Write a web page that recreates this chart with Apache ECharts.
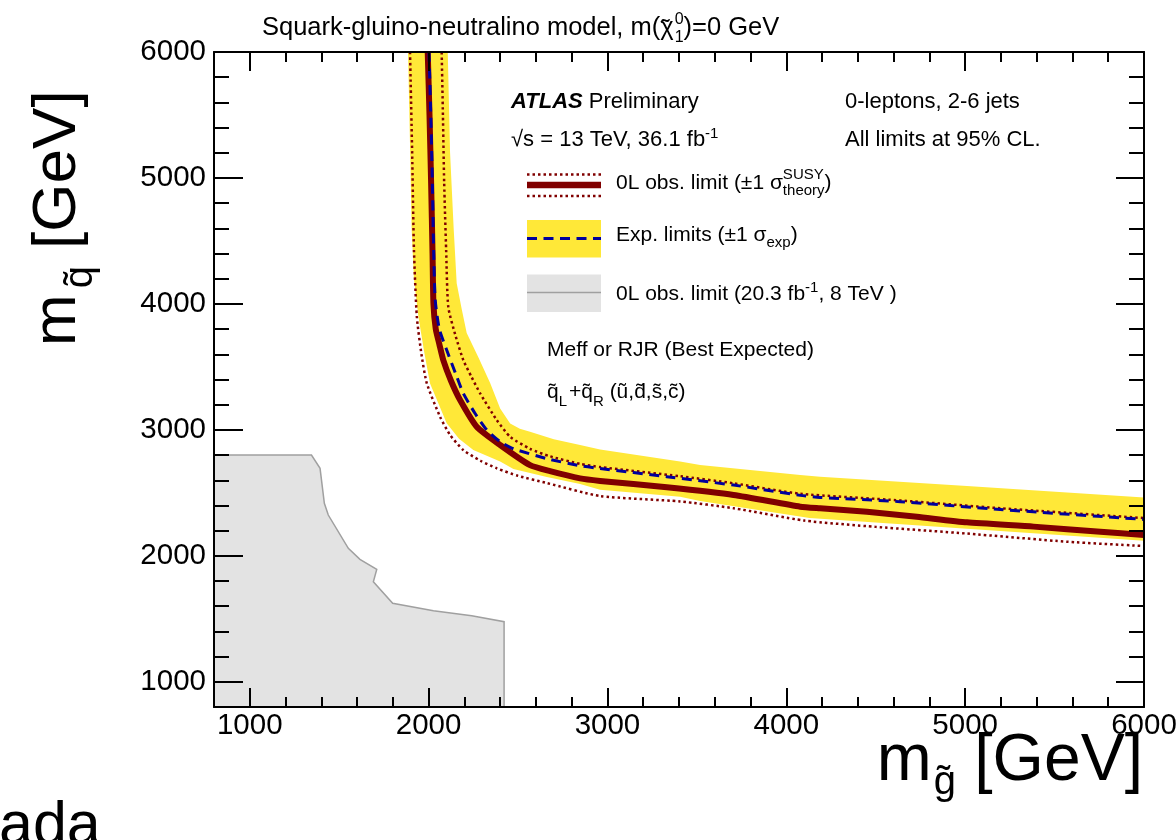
<!DOCTYPE html>
<html>
<head>
<meta charset="utf-8">
<script src="https://cdn.jsdelivr.net/npm/echarts@6/dist/echarts.min.js"></script>
<style>
  html, body { margin: 0; padding: 0; background: #ffffff; }
  #chart { width: 1176px; height: 840px; }
</style>
</head>
<body>
<div id="chart"></div>
<script>
// Axis ranges and labelled ticks (GeV)
const gluinoRange = [800, 6000];
const squarkRange = [800, 6000];
const tickLabels = [1000, 2000, 3000, 4000, 5000, 6000];

// Observed 95% CL limit, [m_gluino, m_squark]
const obsLimit = [
  [1995, 6000], [2005, 5500], [2014, 4960], [2022, 4400], [2027, 4000],
  [2040, 3800], [2060, 3680], [2082, 3554], [2125, 3390], [2176, 3237],
  [2269, 3025], [2400, 2880], [2567, 2720], [2679, 2672], [2847, 2615],
  [2959, 2595], [3332, 2544], [3705, 2483], [4078, 2390], [4189, 2377],
  [4451, 2350], [4730, 2310], [5010, 2266], [5383, 2232], [5756, 2191],
  [6000, 2165]
];
// Observed limit shifted by +1 sigma (theory)
const obsUp = [
  [2073, 6000], [2080, 5500], [2087, 4960], [2098, 4430], [2110, 3975],
  [2150, 3750], [2194, 3554], [2240, 3420], [2288, 3290], [2381, 3078],
  [2456, 2945], [2567, 2850], [2679, 2790], [2847, 2730], [2959, 2705],
  [3406, 2632], [3705, 2576], [4078, 2493], [4637, 2440], [5196, 2378],
  [6000, 2300]
];
// Observed limit shifted by -1 sigma (theory)
const obsDown = [
  [1896, 6000], [1908, 5200], [1918, 4430], [1934, 3900], [1960, 3600],
  [1990, 3369], [2064, 3104], [2120, 2960], [2194, 2840], [2290, 2755],
  [2381, 2695], [2500, 2635], [2661, 2578], [2959, 2475], [3406, 2432],
  [3705, 2378], [4100, 2280], [4500, 2230], [5010, 2177], [5569, 2112],
  [6000, 2078]
];
// Expected limit
const expLimit = [
  [2002, 6000], [2012, 5500], [2021, 4960], [2028, 4430], [2037, 4030],
  [2060, 3800], [2101, 3634], [2150, 3450], [2194, 3290], [2260, 3130],
  [2325, 3000], [2400, 2906], [2474, 2850], [2661, 2772], [2847, 2715],
  [2959, 2694], [3332, 2628], [3705, 2562], [4078, 2480], [4189, 2464],
  [4637, 2430], [5196, 2368], [6000, 2289]
];
// Expected +-1 sigma band edges
const expBandUpper = [
  [2107, 6000], [2120, 5200], [2140, 4600], [2157, 4165], [2185, 3960],
  [2213, 3769], [2280, 3570], [2344, 3372], [2400, 3170], [2456, 3050],
  [2510, 3010], [2567, 2985], [2700, 2925], [2847, 2880], [2959, 2845],
  [3406, 2750], [3518, 2721], [4078, 2641], [4189, 2628], [5010, 2555],
  [6000, 2464]
];
const expBandLower = [
  [1885, 6000], [1897, 5200], [1905, 4600], [1918, 4200], [1943, 3898],
  [1975, 3620], [2008, 3369], [2101, 3052], [2170, 2930], [2250, 2840],
  [2400, 2750], [2474, 2690], [2661, 2625], [2847, 2570], [2959, 2525],
  [3406, 2470], [3518, 2435], [4130, 2300], [5010, 2216], [6000, 2120]
];
// 8 TeV, 20.3 fb-1 observed exclusion region
const run1Limit = [
  [800, 2800], [1345, 2800], [1393, 2695], [1417, 2417], [1439, 2324],
  [1551, 2060], [1616, 1972], [1710, 1893], [1691, 1794], [1799, 1623],
  [2027, 1565], [2241, 1525], [2422, 1477], [2422, 800], [800, 800]
];

const FONT = '"Liberation Sans", Arial, Helvetica, sans-serif';
const C_OBS = '#800000';
const C_EXP = '#00009c';
const C_BAND = '#ffe838';
const C_GREY = '#e3e3e3';
const C_GREY_EDGE = '#a0a0a0';

// text measuring for laying out sub/superscripts
const mctx = document.createElement('canvas').getContext('2d');
function textWidth(t, s, w, st) {
  mctx.font = (st || 'normal') + ' ' + (w || 'normal') + ' ' + s + 'px ' + FONT;
  return mctx.measureText(t).width;
}
// a run of text pieces sharing one baseline; dy shifts sub/superscripts
function textRun(x, base, parts) {
  const out = [];
  let cx = x;
  for (const p of parts) {
    const st = p.it ? 'italic' : 'normal';
    out.push({
      type: 'text', x: cx + (p.dx || 0), y: base + (p.dy || 0) - 0.35 * p.s, silent: true, z: 100,
      style: {
        text: p.t, fontSize: p.s, fontFamily: FONT, fontWeight: p.w || 'normal',
        fontStyle: st, fill: '#000', align: 'left', verticalAlign: 'middle',
        textAlign: 'left', textVerticalAlign: 'middle'
      }
    });
    if (p.adv !== false) cx += textWidth(p.t, p.s, p.w, st) + (p.gap || 0);
  }
  return out;
}
function runWidth(parts) {
  let w = 0;
  for (const p of parts) if (p.adv !== false) w += textWidth(p.t, p.s, p.w, p.it ? 'italic' : 'normal') + (p.gap || 0);
  return w;
}

function polygonSeries(points, fill, stroke, lw, z) {
  return {
    type: 'custom', coordinateSystem: 'cartesian2d', xAxisIndex: 0, yAxisIndex: 0,
    z: z, silent: true, data: points, encode: { x: 0, y: 1 },
    renderItem: function (params, api) {
      if (params.dataIndex !== 0) return null;
      const pts = points.map(function (p) { return api.coord(p); });
      return {
        type: 'polygon', shape: { points: pts },
        style: { fill: fill, stroke: stroke || null, lineWidth: lw || 0 }
      };
    }
  };
}
function lineSeries(data, color, width, type, z) {
  return {
    type: 'line', xAxisIndex: 0, yAxisIndex: 0, data: data, z: z, silent: true,
    showSymbol: false, symbol: 'none', smooth: 0.2, clip: true,
    lineStyle: { color: color, width: width, type: type, cap: 'butt', join: 'round' }
  };
}

function axis(pos, range, major, minor, labels, labelMargin) {
  return {
    type: 'value', position: pos, min: range[0], max: range[1], z: 10,
    axisLine: { show: true, onZero: false, lineStyle: { color: '#000', width: 2 } },
    axisTick: { show: true, inside: true, length: major, lineStyle: { color: '#000', width: 2 } },
    minorTick: { show: true, splitNumber: 5, length: minor, lineStyle: { color: '#000', width: 2 } },
    splitLine: { show: false }, minorSplitLine: { show: false },
    axisLabel: {
      show: labels, margin: labelMargin, fontSize: 29.5, color: '#000', fontFamily: FONT,
      showMinLabel: false, hideOverlap: false,
      formatter: function (v) { return tickLabels.indexOf(v) >= 0 ? String(v) : ''; }
    }
  };
}

// ----- annotation graphics -----
const gfx = [];
function push(arr) { for (const e of arr) gfx.push(e); }

// plot title
push(textRun(262, 37, [
  { t: 'Squark-gluino-neutralino model, m(', s: 25.5 },
  { t: '˜', s: 25.5, dx: 1, dy: 2, adv: false },
  { t: 'χ', s: 25.5, gap: 1 },
  { t: '0', s: 16, dy: -12, adv: false },
  { t: '1', s: 16, dy: 6 },
  { t: ')=0 GeV', s: 25.5 }
]));

// experiment block
push(textRun(511, 110, [{ t: 'ATLAS', s: 22, w: 'bold', it: true }, { t: ' Preliminary', s: 22 }]));
push(textRun(511, 148, [{ t: '√s = 13 TeV, 36.1 fb', s: 22 }, { t: '-1', s: 15, dy: -9 }]));
push(textRun(845, 110, [{ t: '0-leptons, 2-6 jets', s: 22 }]));
push(textRun(845, 148, [{ t: 'All limits at 95% CL.', s: 22 }]));

// legend samples
const LX1 = 527, LX2 = 601;
gfx.push({ type: 'line', silent: true, z: 100, shape: { x1: LX1, y1: 174.5, x2: LX2, y2: 174.5 }, style: { stroke: C_OBS, lineWidth: 2.5, lineDash: [2.5, 3] } });
gfx.push({ type: 'line', silent: true, z: 100, shape: { x1: LX1, y1: 185, x2: LX2, y2: 185 }, style: { stroke: C_OBS, lineWidth: 6.5 } });
gfx.push({ type: 'line', silent: true, z: 100, shape: { x1: LX1, y1: 196, x2: LX2, y2: 196 }, style: { stroke: C_OBS, lineWidth: 2.5, lineDash: [2.5, 3] } });
gfx.push({ type: 'rect', silent: true, z: 100, shape: { x: LX1, y: 220, width: LX2 - LX1, height: 37.5 }, style: { fill: C_BAND } });
gfx.push({ type: 'line', silent: true, z: 101, shape: { x1: LX1, y1: 238.5, x2: LX2, y2: 238.5 }, style: { stroke: C_EXP, lineWidth: 3, lineDash: [10, 6.5] } });
gfx.push({ type: 'rect', silent: true, z: 100, shape: { x: LX1, y: 274.5, width: LX2 - LX1, height: 37.5 }, style: { fill: C_GREY } });
gfx.push({ type: 'line', silent: true, z: 101, shape: { x1: LX1, y1: 292.5, x2: LX2, y2: 292.5 }, style: { stroke: C_GREY_EDGE, lineWidth: 1.5 } });

// legend texts
push(textRun(616, 191, [
  { t: '0L obs. limit (±1 σ', s: 21 },
  { t: 'SUSY', s: 15, dy: -11, adv: false },
  { t: 'theory', s: 15, dy: 5 },
  { t: ')', s: 21 }
]));
push(textRun(616, 243, [
  { t: 'Exp. limits (±1 σ', s: 21 },
  { t: 'exp', s: 15, dy: 5 },
  { t: ')', s: 21 }
]));
push(textRun(616, 302, [
  { t: '0L obs. limit (20.3 fb', s: 21 },
  { t: '-1', s: 15, dy: -9 },
  { t: ', 8 TeV )', s: 21 }
]));
push(textRun(547, 358, [{ t: 'Meff or RJR (Best Expected)', s: 21 }]));
push(textRun(547, 400, [
  { t: 'q̃', s: 21 }, { t: 'L', s: 15, dy: 7, gap: 2 },
  { t: '+q̃', s: 21 }, { t: 'R', s: 15, dy: 7 },
  { t: ' (ũ,d̃,s̃,c̃)', s: 21 }
]));

// x axis title, right aligned to the frame
const xTitle = [{ t: 'm', s: 66, gap: 2 }, { t: 'g̃', s: 40, dy: 12 }, { t: ' [GeV]', s: 66 }];
push(textRun(1143 - runWidth(xTitle), 785, xTitle));

// y axis title, rotated
gfx.push({
  type: 'group', x: 80, y: 346, rotation: Math.PI / 2, silent: true,
  children: textRun(0, 0, [{ t: 'm', s: 62, gap: 6 }, { t: 'q̃', s: 40, dy: 15 }, { t: ' [GeV]', s: 62 }])
});

// stray caption fragment at the page corner
push(textRun(-1, 849, [{ t: 'ada', s: 61 }]));

const chart = echarts.init(document.getElementById('chart'), null, { renderer: 'canvas' });
chart.setOption({
  animation: false,
  backgroundColor: '#ffffff',
  grid: { left: 214, right: 32, top: 52, bottom: 133, containLabel: false, outerBoundsMode: 'none' },
  xAxis: [
    axis('bottom', gluinoRange, 19, 10, true, 4),
    axis('top', gluinoRange, 19, 10, false, 4)
  ],
  yAxis: [
    axis('left', squarkRange, 29, 15, true, 8),
    axis('right', squarkRange, 28, 15, false, 8)
  ],
  series: [
    polygonSeries(run1Limit, C_GREY, C_GREY_EDGE, 1.5, 1),
    polygonSeries(expBandUpper.concat(expBandLower.slice().reverse()), C_BAND, null, 0, 2),
    lineSeries(obsDown, C_OBS, 2.5, [2.5, 3], 3),
    lineSeries(obsUp, C_OBS, 2.5, [2.5, 3], 3),
    lineSeries(obsLimit, C_OBS, 6, 'solid', 4),
    lineSeries(expLimit, C_EXP, 3, [10, 6.5], 5)
  ],
  graphic: gfx
});
</script>
</body>
</html>
